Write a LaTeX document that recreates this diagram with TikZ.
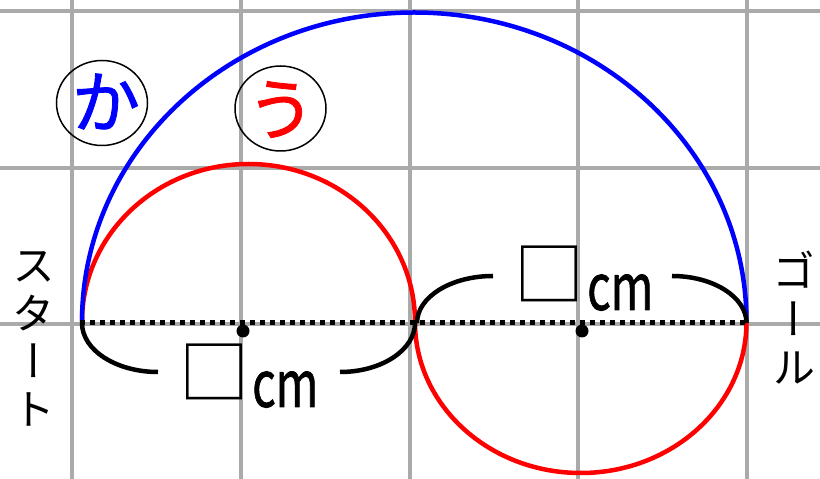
\documentclass[tikz,border=0pt]{standalone}
\usepackage{fontspec}
\newfontfamily\jp{Noto Sans CJK JP}
\newfontfamily\jpmed[FakeBold=1.2]{Noto Sans CJK JP}
\newfontfamily\jpvert[RawFeature=+vert]{Noto Sans CJK JP}
\usetikzlibrary{shapes.geometric}
\definecolor{gridgray}{RGB}{170,170,170}
\tikzset{
  gridline/.style={draw=gridgray, line width=4},
  thick curve/.style={line width=4.5},
  bracearc/.style={draw=black, line width=4.5},
  markcircle/.style={ellipse, draw=black, line width=1.5, minimum width=91pt, minimum height=85pt, inner sep=0pt},
  marktext/.style={font=\jpmed\fontsize{68}{68}\selectfont, inner sep=0pt},
  boxglyph/.style={font=\jp\fontsize{70}{70}\selectfont, inner sep=0pt},
  unittext/.style={font=\jpmed\fontsize{64}{64}\selectfont, inner sep=0pt, anchor=base west},
  vtext/.style={font=\jpvert\fontsize{43}{48}\selectfont, align=center, inner sep=0pt},
  centerdot/.style={circle, fill=black, minimum size=13pt, inner sep=0pt}
}
\begin{document}
\begin{tikzpicture}[x=1pt,y=1pt]
\useasboundingbox (0,0) rectangle (820,479);
\fill[white] (0,0) rectangle (820,479);
% grid
\foreach \gx in {72,241,409.5,578,746.5} \draw[gridline] (\gx,0) -- (\gx,479);
\foreach \gy in {468,311,155} \draw[gridline] (0,\gy) -- (820,\gy);
% arcs
\draw[red, thick curve] (82,157) arc[start angle=180, end angle=0, x radius=166.5, y radius=158];
\draw[red, thick curve] (415,157) arc[start angle=180, end angle=360, x radius=165.75, y radius=151];
\draw[blue, thick curve] (82,157) arc[start angle=180, end angle=0, x radius=332.25, y radius=309.5];
% dotted diameter
\draw[line width=5, dash pattern=on 5pt off 5pt] (80,156.5) -- (746,156.5);
% braces
\draw[bracearc] (82,156) arc[start angle=180, end angle=270, x radius=76, y radius=49];
\draw[bracearc] (340,107) arc[start angle=270, end angle=360, x radius=75, y radius=49];
\draw[bracearc] (417,156) arc[start angle=180, end angle=90, x radius=76, y radius=47];
\draw[bracearc] (672,203) arc[start angle=90, end angle=0, x radius=74.5, y radius=47];
% centre dots
\node[centerdot] (c1) at (243,148) {};
\node[centerdot] (c2) at (582,148) {};
% labels
\node[boxglyph] (box1) at (214.5,107) {□};
\node[unittext] (cm1) at (252,72) {\scalebox{0.72}[1]{cm}};
\node[boxglyph] (box2) at (549.5,205) {□};
\node[unittext] (cm2) at (587,169) {\scalebox{0.72}[1]{cm}};
% marks
\node[markcircle] (ka) at (102,376) {};
\node[marktext, text=blue] (katext) at (106,377.5) {か};
\node[markcircle] (u) at (280.5,370.5) {};
\node[marktext, text=red] (utext) at (281,369.5) {う};
% vertical words
\node[vtext] (start) at (34,140) {ス\\タ\\ー\\ト};
\node[vtext] (goal) at (794,161) {ゴ\\ー\\ル};
\end{tikzpicture}
\end{document}
